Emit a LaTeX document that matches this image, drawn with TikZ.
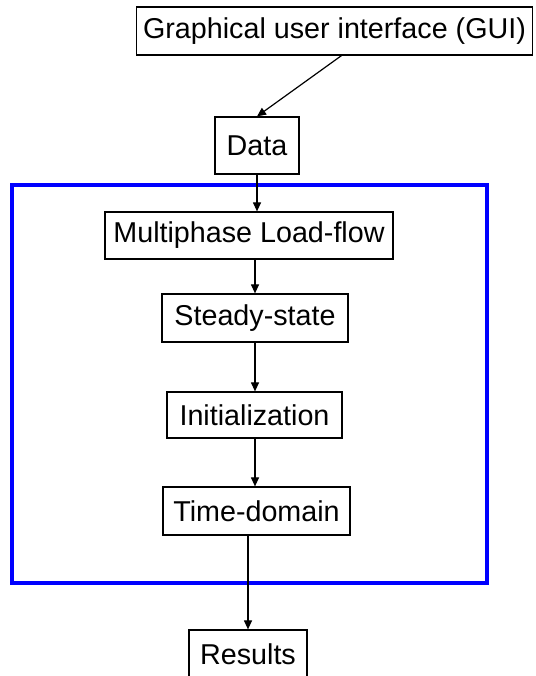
\documentclass[tikz,border=0pt]{standalone}
\usepackage{fontspec}
\setmainfont{Liberation Sans}
\usepackage{tikz}
\usetikzlibrary{arrows.meta}

\begin{document}
\begin{tikzpicture}[x=1pt,y=1pt,
    block/.style={shape=rectangle,draw=black,line width=1.2pt,inner sep=0pt,
        font=\fontsize{28.7}{34}\selectfont},
    flow/.style={-{Triangle[length=9pt,width=8pt]},line width=1.2pt}]
                \useasboundingbox (0,0) rectangle (535,676);
                \draw[blue,line width=4pt] (12,93) rectangle (487,491);

                \node[block,minimum width=396pt,minimum height=48pt] (GUI) at (334.5,645) {Graphical user interface (GUI)};
                \node[block,minimum width=84pt,minimum height=57pt] (Data) at (257,530.5) {Data};
                \node[block,minimum width=288pt,minimum height=47pt] (LoadFlow) at (249,440.5) {Multiphase Load-flow};
                \node[block,minimum width=186pt,minimum height=48pt] (Steady) at (255,358) {Steady-state};
                \node[block,minimum width=175pt,minimum height=46pt] (Init) at (254.5,261) {Initialization};
                \node[block,minimum width=187pt,minimum height=48pt] (Time) at (256.5,165) {Time-domain};
                \node[block,minimum width=118pt,minimum height=48pt] (Results) at (248,22) {Results};

                \path [flow] ([xshift=7pt]GUI.south) edge (Data.north);
                \path [flow] (Data.south) edge (LoadFlow.north -| Data.south);
                \path [flow] (LoadFlow.south -| Steady.north) edge (Steady.north);
                \path [flow] (Steady.south) edge (Init.north -| Steady.south);
                \path [flow] (Init.south -| Steady.south) edge (Time.north -| Steady.south);
                \path [flow] (Time.south -| Results.north) edge (Results.north);
            \end{tikzpicture}
\end{document}
